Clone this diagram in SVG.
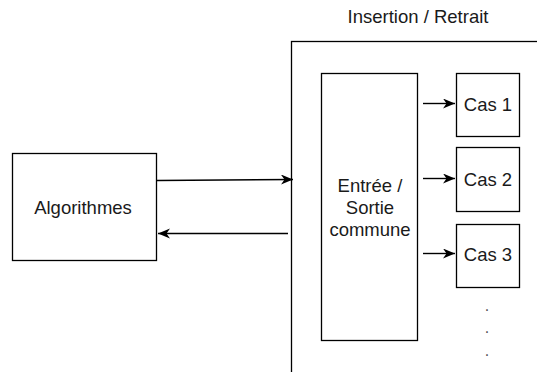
<svg xmlns="http://www.w3.org/2000/svg" width="537" height="372" viewBox="0 0 537 372">
<style>
  .box { fill: #ffffff; stroke: #000000; stroke-width: 1.3; }
  .lbl { font-family: "Liberation Sans", Arial, sans-serif; font-size: 18.5px; fill: #1a1a1a; text-anchor: middle; }
  .edge { fill: none; stroke: #000000; stroke-width: 1.4; }
  .dot { font-family: "Liberation Sans", Arial, sans-serif; font-size: 16px; fill: #555555; text-anchor: middle; }
</style>
<defs>
  <marker id="arr" markerUnits="userSpaceOnUse" markerWidth="14" markerHeight="12" refX="12" refY="5" orient="auto">
    <path d="M0,0 L12,5 L0,10 L3.5,5 Z" fill="#000000"/>
  </marker>
</defs>
<rect width="537" height="372" fill="#ffffff"/>
<g id="title">
  <text class="lbl" x="418" y="23">Insertion / Retrait</text>
</g>
<g id="container">
  <rect class="box" x="291.5" y="41.5" width="270" height="350"/>
</g>
<g id="algorithmes">
  <rect class="box" x="12.5" y="153.5" width="144" height="107"/>
  <text class="lbl" x="83" y="213.5">Algorithmes</text>
</g>
<g id="entree-sortie">
  <rect class="box" x="321.5" y="73.5" width="96" height="267"/>
  <text class="lbl" x="370" y="191.5">Entrée /</text>
  <text class="lbl" x="370" y="214">Sortie</text>
  <text class="lbl" x="370" y="236">commune</text>
</g>
<g id="cas1">
  <rect class="box" x="456.5" y="73.5" width="63" height="63"/>
  <text class="lbl" x="488" y="111">Cas 1</text>
</g>
<g id="cas2">
  <rect class="box" x="456.5" y="147.5" width="63" height="64"/>
  <text class="lbl" x="488" y="186">Cas 2</text>
</g>
<g id="cas3">
  <rect class="box" x="456.5" y="224.5" width="63" height="63"/>
  <text class="lbl" x="488" y="260.5">Cas 3</text>
</g>
<g id="ellipsis">
  <text class="dot" x="487" y="310.5">.</text>
  <text class="dot" x="487" y="333">.</text>
  <text class="dot" x="487" y="355.5">.</text>
</g>
<g id="connectors">
  <line class="edge" x1="157" y1="180.5" x2="293" y2="179.5" marker-end="url(#arr)"/>
  <line class="edge" x1="288" y1="233.5" x2="158" y2="233.5" marker-end="url(#arr)"/>
  <line class="edge" x1="423" y1="103.5" x2="455" y2="103.5" marker-end="url(#arr)"/>
  <line class="edge" x1="423" y1="178.5" x2="455" y2="178.5" marker-end="url(#arr)"/>
  <line class="edge" x1="423" y1="253.5" x2="455" y2="253.5" marker-end="url(#arr)"/>
</g>
</svg>
